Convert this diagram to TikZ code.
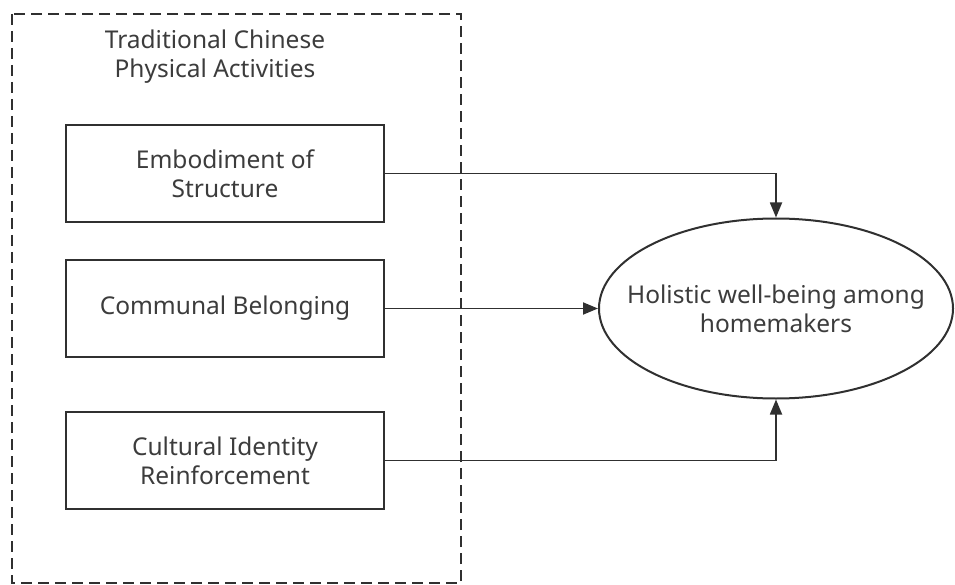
\documentclass[tikz,border=0pt]{standalone}
\usepackage{fontspec}
\setmainfont{Noto Sans}
\usetikzlibrary{shapes.geometric,arrows.meta}
\definecolor{linec}{HTML}{303030}
\definecolor{textc}{HTML}{3C3C3C}
\begin{document}
\begin{tikzpicture}[x=1pt,y=-1pt,
  every node/.style={font=\fontsize{24.5}{29}\selectfont, text=textc, align=center},
  factor/.style={draw=linec, line width=2pt, minimum width=318pt, minimum height=97pt, inner sep=0pt},
  outcome/.style={ellipse, draw=linec, line width=2pt, minimum width=354pt, minimum height=180pt, inner xsep=-40pt, inner ysep=0pt},
  conn/.style={draw=linec, line width=1.8pt, -{Triangle[length=15pt,width=12pt]}},
  grp/.style={draw=linec, line width=2pt, dash pattern=on 11pt off 6pt}]
\useasboundingbox (0,0) rectangle (955,585);
\draw[grp] (12,14) rectangle (461,583);
\node (title) at (215,57) {Traditional Chinese\\Physical Activities};
\node[factor] (f1) at (225,173.5) {Embodiment of\\Structure};
\node[factor] (f2) at (225,308.5) {Communal Belonging};
\node[factor] (f3) at (225,460.5) {Cultural Identity\\Reinforcement};
\node[outcome] (o) at (776,308.5) {Holistic well-being among\\homemakers};
\draw[conn] (f1.east) -| (o.north);
\draw[conn] (f2.east) -- (o.west);
\draw[conn] (f3.east) -| (o.south);
\end{tikzpicture}
\end{document}
